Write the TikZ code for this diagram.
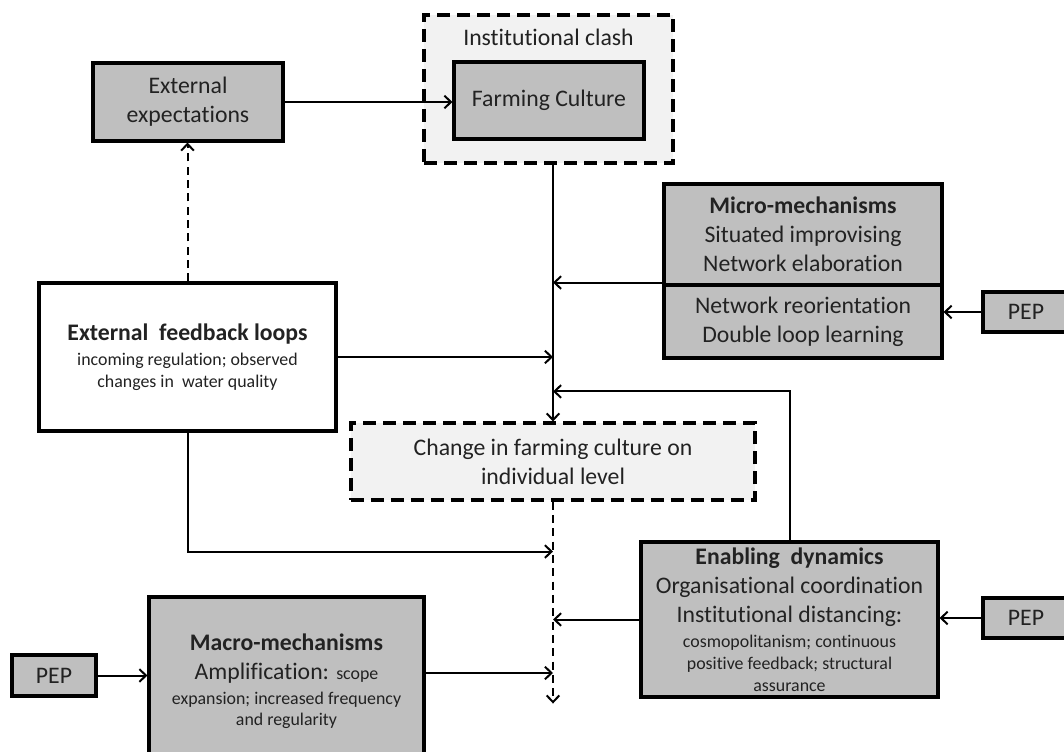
\documentclass[tikz,border=0pt]{standalone}
\usepackage{fontspec}
\setmainfont{Carlito}[Ligatures={NoCommon}]
\usetikzlibrary{arrows.meta,calc}
\definecolor{boxgray}{HTML}{BFBFBF}
\definecolor{paleg}{HTML}{F2F2F2}
\definecolor{txt}{HTML}{222222}
\newcommand\fmain{\fontsize{17.8}{21.75}\selectfont}
\newcommand\fsmall{\fontsize{13.4}{16.5}\selectfont}
\begin{document}
\begin{tikzpicture}[x=0.75pt,y=-0.75pt,
  every node/.style={text=txt, font=\fmain, align=center, inner sep=0pt},
  gbox/.style={draw=black, line width=2.3pt, fill=boxgray},
  wbox/.style={draw=black, line width=2.3pt, fill=white},
  dbox/.style={draw=black, line width=2.3pt, dash pattern=on 9.5pt off 5.5pt, fill=paleg},
  conn/.style={draw=black, line width=1.5pt, -{Straight Barb[length=5pt,width=9.5pt,line width=1.5pt]}},
  dconn/.style={conn, dash pattern=on 6pt off 4pt},
]
\useasboundingbox (0,0) rectangle (1064,752);
\begin{scope}
\clip (0,0) rectangle (1064,752);
% top
\node[dbox, minimum width=186.75pt, minimum height=111pt] (ic) at (548.5,89) {};
\node (ict) at (548.5,37) {Institutional clash};
\node[gbox, minimum width=142.5pt, minimum height=57.75pt] (fc) at (549,100.5) {Farming Culture};
\node[gbox, minimum width=142.5pt, minimum height=58.5pt] (ee) at (188,102) {External\\expectations};
% micro
\node[gbox, minimum width=208.5pt, minimum height=75.75pt] (mu) at (803,234.5)
  {{\bfseries Micro-mechanisms}\\Situated improvising\\Network elaboration};
\node[gbox, minimum width=208.5pt, minimum height=54.75pt] (ml) at (803,321.5)
  {Network reorientation\\Double loop learning};
\node[gbox, minimum width=64.5pt, minimum height=30pt] (pr1) at (1026,312) {PEP};
% feedback
\node[wbox, minimum width=222.75pt, minimum height=111pt] (fb) at (187.5,357)
  {{\bfseries External\ \ feedback loops}\\[-3pt]
   {\fsmall incoming regulation; observed}\\[-5pt]
   {\fsmall changes in\ \ water quality}};
% change
\node[dbox, minimum width=303pt, minimum height=57.75pt] (cf) at (553,461.5)
  {Change in farming culture on\\individual level};
% enabling
\node[gbox, minimum width=222.75pt, minimum height=116.25pt] (en) at (789.5,619.5)
  {{\bfseries Enabling\ \ dynamics}\\Organisational coordination\\Institutional distancing:\\[-2.5pt]
   {\fsmall cosmopolitanism; continuous}\\[-5.5pt]
   {\fsmall positive feedback; structural}\\[-5.5pt]
   {\fsmall assurance}};
\node[gbox, minimum width=64.5pt, minimum height=30pt] (pr2) at (1026,618) {PEP};
% macro
\node[gbox, minimum width=206.25pt, minimum height=126pt] (mm) at (286.5,681)
  {{\bfseries Macro-mechanisms}\\Amplification: {\fsmall scope}\\[-3pt]
   {\fsmall expansion; increased frequency}\\[-6pt]
   {\fsmall and regularity}};
\node[gbox, minimum width=63pt, minimum height=30.75pt] (pl) at (54,675.5) {PEP};
% connectors
\draw[conn] (ee.east) -- (ee.east -| fc.west);
\draw[dconn] (fb.north) -- (fb.north |- ee.south);
\draw[conn] (cf.north |- ic.south) -- (cf.north);
\draw[conn] ($(mu.south west)+(0,-4)$) -- ($(mu.south west -| cf.north)+(0,-4)$);
\draw[conn] (pr1.west) -- (pr1.west -| ml.east);
\draw[conn] (fb.east) -- (fb.east -| cf.north);
\draw[conn] (en.north) |- ($(cf.north)+(0,-30)$);
\draw[conn] (fb.south) |- ($(cf.south)+(0,50)$);
\draw[dconn] (cf.south) -- ($(cf.south)+(0,202)$);
\draw[conn] (en.west) -- (en.west -| cf.south);
\draw[conn] (pr2.west) -- (pr2.west -| en.east);
\draw[conn] ($(mm.east)+(0,-8)$) -- ($(mm.east -| cf.south)+(0,-8)$);
\draw[conn] (pl.east) -- (pl.east -| mm.west);
\end{scope}
\end{tikzpicture}
\end{document}
